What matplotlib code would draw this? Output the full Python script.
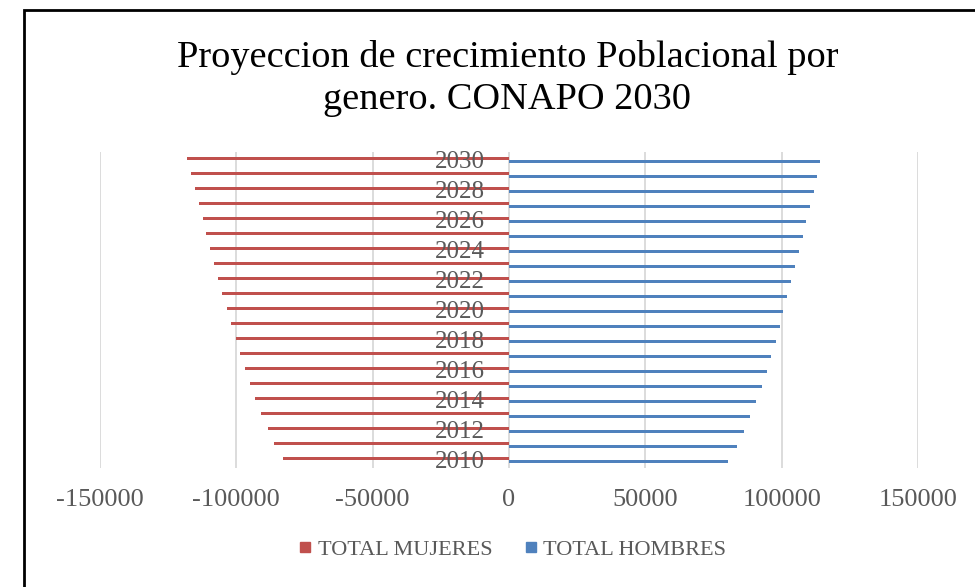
import matplotlib
matplotlib.use("Agg")
import matplotlib.pyplot as plt
from matplotlib.patches import Rectangle
from matplotlib.lines import Line2D
import numpy as np

years = list(range(2010, 2031))
mujeres = [82900, 86080, 88530, 90840, 93040, 94980, 96810, 98790, 100110, 102080,
           103410, 105240, 106710, 108180, 109520, 110990, 112340, 113660, 115270, 116600, 118060]
hombres = [80470, 83620, 86080, 88390, 90730, 92670, 94510, 95970, 97800, 99270,
           100620, 101940, 103410, 104870, 106340, 107690, 109050, 110370, 111840, 112820, 114170]
xticks = [-150000, -100000, -50000, 0, 50000, 100000, 150000]
title_lines = ["Proyeccion de crecimiento Poblacional por", "genero. CONAPO 2030"]
series_names = ["TOTAL MUJERES", "TOTAL HOMBRES"]

RED = "#C0504D"
BLUE = "#4F81BD"
GRAY = "#595959"
FONT = "Liberation Serif"

fig = plt.figure(figsize=(9.75, 5.87), dpi=100)
ax = fig.add_axes([100/975, 1-468/587, (918-100)/975, (468-152)/587])

pos = np.arange(len(years))
h = 0.23
off = 0.115
ax.barh(pos + off, [-v for v in mujeres], height=h, color=RED, zorder=2)
ax.barh(pos - off, hombres, height=h, color=BLUE, zorder=2)

ax.set_xlim(-150000, 150000)
ax.set_ylim(-0.53, len(years) - 0.47)
ax.set_xticks(xticks)
ax.set_xticklabels([str(t) for t in xticks], fontfamily=FONT, fontsize=19, color=GRAY)
ax.tick_params(axis="x", length=0, pad=15)
ax.set_yticks([])
for s in ax.spines.values():
    s.set_visible(False)
for t in xticks:
    ax.axvline(t, color="#D9D9D9", lw=1.3, zorder=1)

for i, y in enumerate(years):
    if (y - 2010) % 2 == 0:
        ax.annotate(str(y), xy=(0, i), xytext=(-17.5, -6.0), textcoords="offset points",
                    ha="right", va="baseline", fontfamily=FONT, fontsize=18, color=GRAY, zorder=5)

fig.text(507.5/975, 1-67/587, title_lines[0], ha="center", va="baseline", fontfamily=FONT,
         fontsize=27.6, color="#000000")
fig.text(507/975, 1-109/587, title_lines[1], ha="center", va="baseline", fontfamily=FONT,
         fontsize=27.6, color="#000000")

handles = [Line2D([], [], marker="s", ls="none", color=RED, markersize=7.5),
           Line2D([], [], marker="s", ls="none", color=BLUE, markersize=7.5)]
fig.legend(handles, series_names, loc="center", bbox_to_anchor=(511.5/975, 1-550/587),
           ncol=2, frameon=False, prop={"family": FONT, "size": 16},
           handletextpad=0.15, columnspacing=1.35, labelcolor=GRAY, handlelength=0.8)

fig.patches.append(Rectangle((24/975, -0.1), 1.2, 1-10/587 + 0.1, transform=fig.transFigure,
                             fill=False, edgecolor="black", lw=2, zorder=10))

fig.savefig("out.png", dpi=100)
